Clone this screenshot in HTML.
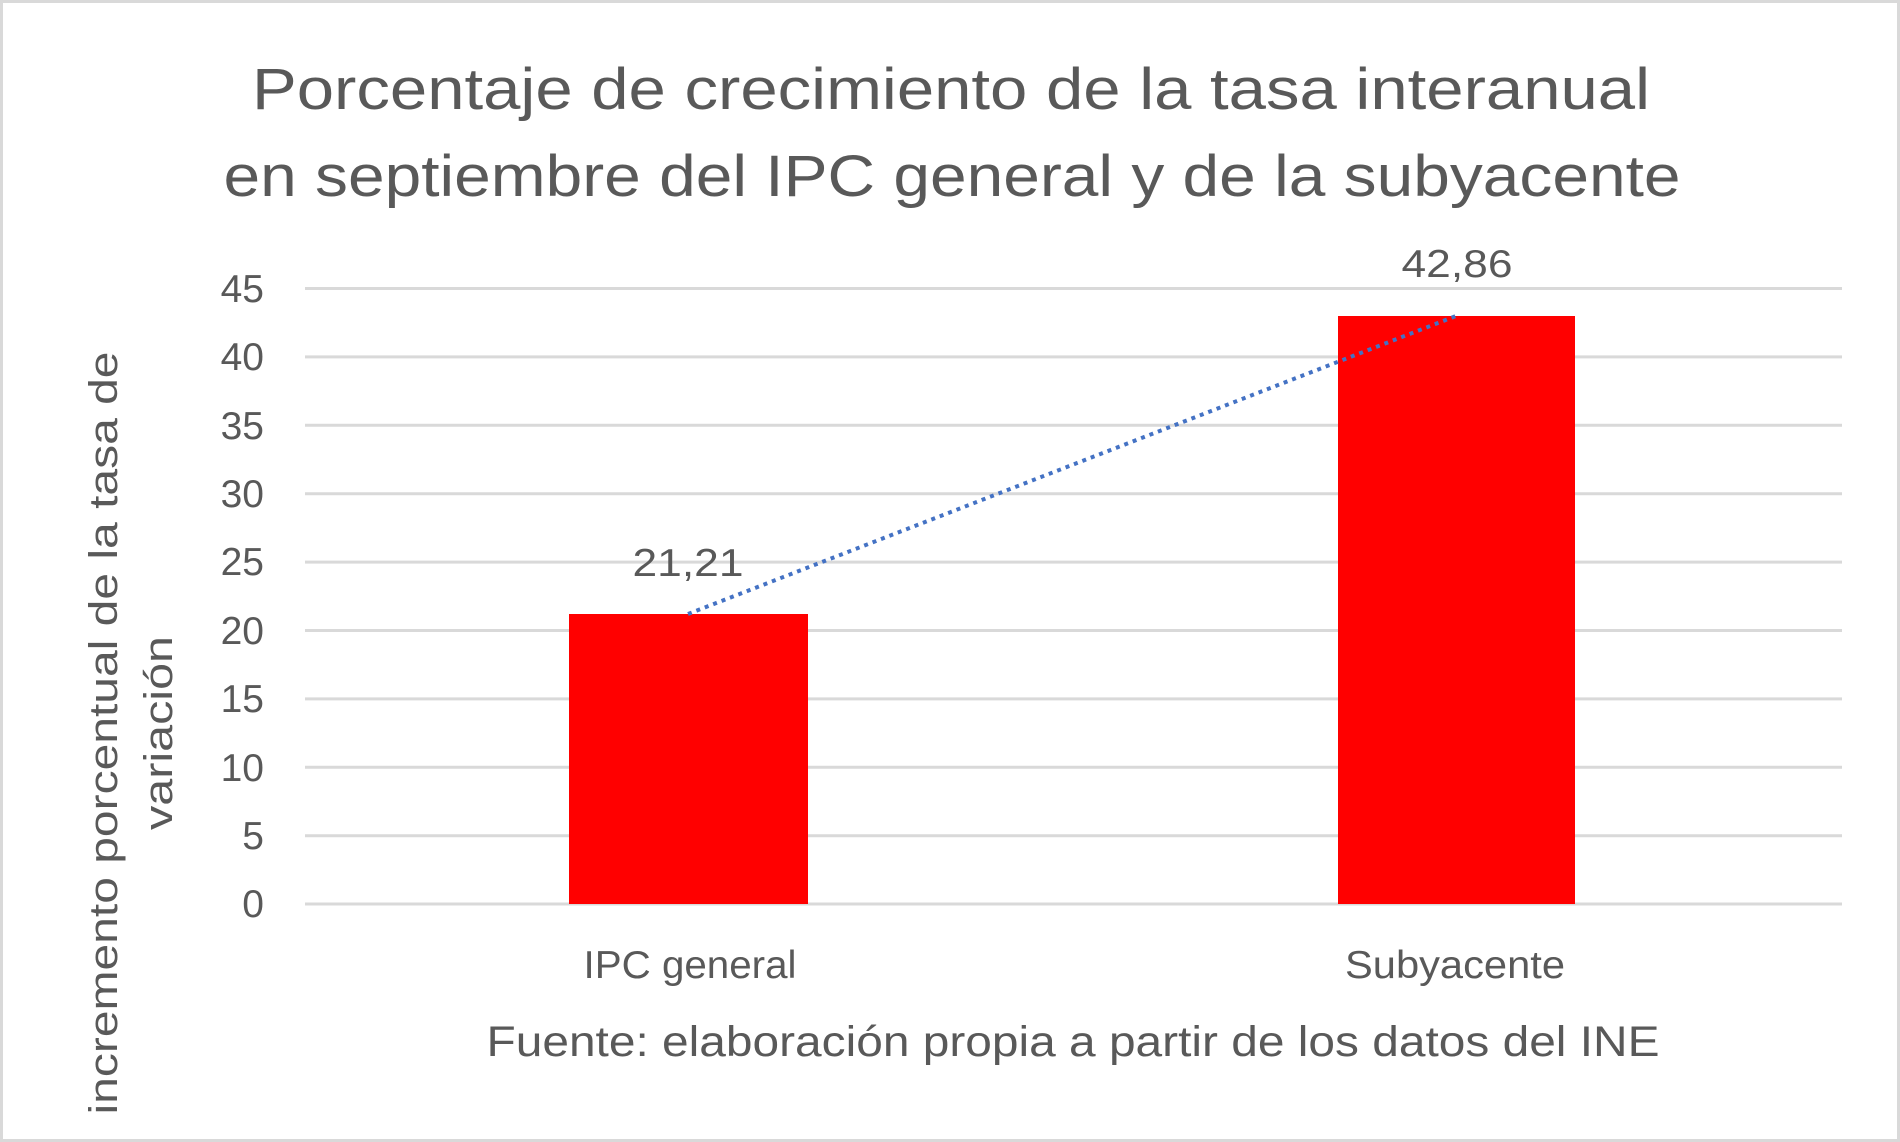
<!DOCTYPE html>
<html><head><meta charset="utf-8"><style>
html,body{margin:0;padding:0;background:#fff;}
svg{display:block;}
text{font-family:"Liberation Sans",sans-serif;fill:#595959;}
</style></head><body>
<svg width="1900" height="1142" viewBox="0 0 1900 1142">
<rect x="1.5" y="1.5" width="1897" height="1139" fill="#fff" stroke="#d9d9d9" stroke-width="3"/>
<text x="951" y="109" font-size="58" text-anchor="middle" textLength="1398" lengthAdjust="spacingAndGlyphs">Porcentaje de crecimiento de la tasa interanual</text>
<text x="952" y="196" font-size="58" text-anchor="middle" textLength="1457" lengthAdjust="spacingAndGlyphs">en septiembre del IPC general y de la subyacente</text>
<g stroke="#d9d9d9" stroke-width="3">
<line x1="305" y1="288.5" x2="1842" y2="288.5"/>
<line x1="305" y1="356.9" x2="1842" y2="356.9"/>
<line x1="305" y1="425.3" x2="1842" y2="425.3"/>
<line x1="305" y1="493.7" x2="1842" y2="493.7"/>
<line x1="305" y1="562.1" x2="1842" y2="562.1"/>
<line x1="305" y1="630.5" x2="1842" y2="630.5"/>
<line x1="305" y1="698.9" x2="1842" y2="698.9"/>
<line x1="305" y1="767.3" x2="1842" y2="767.3"/>
<line x1="305" y1="835.7" x2="1842" y2="835.7"/>
<line x1="305" y1="904" x2="1842" y2="904"/>
</g>
<g font-size="39" text-anchor="end">
<text x="264" y="302">45</text><text x="264" y="370">40</text><text x="264" y="439">35</text>
<text x="264" y="507">30</text><text x="264" y="575">25</text><text x="264" y="644">20</text>
<text x="264" y="712">15</text><text x="264" y="781">10</text><text x="264" y="849">5</text>
<text x="264" y="917">0</text>
</g>
<rect x="569" y="614" width="239" height="290" fill="#ff0000"/>
<rect x="1338" y="316" width="237" height="588" fill="#ff0000"/>
<line x1="688" y1="614" x2="1456" y2="316" stroke="#4472c4" stroke-width="4" stroke-dasharray="4,5"/>
<text x="688" y="576" font-size="39" text-anchor="middle" textLength="111" lengthAdjust="spacingAndGlyphs">21,21</text>
<text x="1457" y="277" font-size="39" text-anchor="middle" textLength="111" lengthAdjust="spacingAndGlyphs">42,86</text>
<text x="690" y="978" font-size="39" text-anchor="middle" textLength="213" lengthAdjust="spacingAndGlyphs">IPC general</text>
<text x="1455" y="978" font-size="39" text-anchor="middle" textLength="220" lengthAdjust="spacingAndGlyphs">Subyacente</text>
<text x="1073" y="1056" font-size="43" text-anchor="middle" textLength="1173" lengthAdjust="spacingAndGlyphs">Fuente: elaboración propia a partir de los datos del INE</text>
<text transform="translate(117,733) rotate(-90)" font-size="40" text-anchor="middle" textLength="763" lengthAdjust="spacingAndGlyphs">incremento porcentual de la tasa de</text>
<text transform="translate(172,733) rotate(-90)" font-size="40" text-anchor="middle" textLength="194" lengthAdjust="spacingAndGlyphs">variación</text>
</svg>
</body></html>
